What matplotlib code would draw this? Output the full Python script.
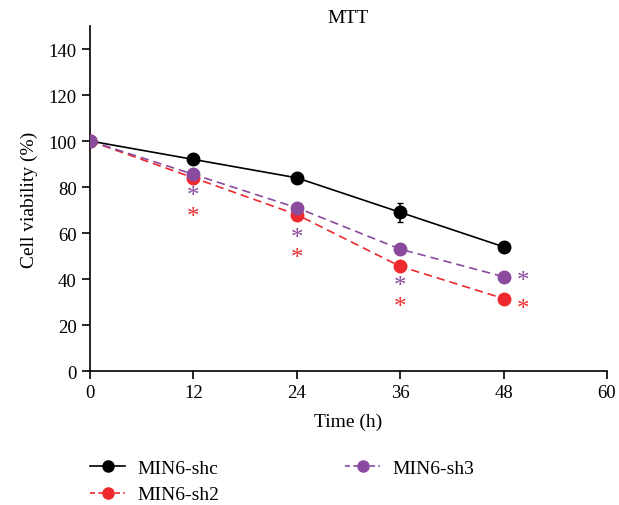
import numpy as np
import matplotlib.pyplot as plt
from matplotlib.lines import Line2D

plt.rcParams['font.family'] = ['Liberation Serif', 'DejaVu Serif']

# time points (h)
time = [0, 12, 24, 36, 48]

# cell viability (%) per group
shc = [100, 92, 84, 69, 54]
shc_err = [0, 1, 1.5, 4, 1]
sh2 = [100, 84, 68, 45.5, 31.5]
sh2_err = [0, 1.5, 2, 1.5, 1]
sh3 = [100, 85.5, 71, 53, 41]
sh3_err = [0, 1, 1, 1.5, 2]

# significance markers (x, y)
star_x = [12, 24, 36, 50.2]
star_sh3_y = [76, 58, 37, 39]
star_sh2_y = [67, 49, 28, 27]

col_shc = '#000000'
col_sh2 = '#ee2a2e'
col_sh3 = '#8a4a9e'

fig = plt.figure(figsize=(6.19, 5.06), dpi=100)
ax = fig.add_axes([0.1454, 0.2648, 0.8352, 0.6818])

ax.errorbar(time, shc, yerr=shc_err, color=col_shc, marker='o', ms=9,
            lw=1.2, capsize=2.5, elinewidth=1.2, zorder=3)
ax.errorbar(time, sh2, yerr=sh2_err, color=col_sh2, marker='o', ms=9,
            lw=1.2, ls=(0, (5, 3)), capsize=2.5, ecolor='black', elinewidth=1.2,
            zorder=3)
ax.errorbar(time, sh3, yerr=sh3_err, color=col_sh3, marker='o', ms=9,
            lw=1.2, ls=(0, (5, 3)), capsize=2.5, ecolor='black', elinewidth=1.2,
            zorder=4)

for x, y in zip(star_x, star_sh3_y):
    ax.text(x, y, '*', color=col_sh3, ha='center', va='center', fontsize=18)
for x, y in zip(star_x, star_sh2_y):
    ax.text(x, y, '*', color=col_sh2, ha='center', va='center', fontsize=18)

ax.set_xlim(0, 60)
ax.set_ylim(0, 150)
ax.set_xticks([0, 12, 24, 36, 48, 60])
ax.set_yticks([0, 20, 40, 60, 80, 100, 120, 140])
ax.spines['top'].set_visible(False)
ax.spines['right'].set_visible(False)
ax.tick_params(labelsize=13.5, width=1.2, length=6)
ax.spines['left'].set_linewidth(1.2)
ax.spines['bottom'].set_linewidth(1.2)
ax.set_xlabel('Time (h)', fontsize=14, labelpad=8)
ax.set_ylabel('Cell viability (%)', fontsize=14, labelpad=8)
ax.set_title('MTT', fontsize=14, pad=0)

handles = [
    Line2D([], [], color=col_shc, marker='o', ms=8, lw=1.2),
    Line2D([], [], color=col_sh2, marker='o', ms=8, lw=1.2, ls=(0, (3, 2))),
    Line2D([], [], color=col_sh3, marker='o', ms=8, lw=1.2, ls=(0, (3, 2))),
]
labels = ['MIN6-shc', 'MIN6-sh2', 'MIN6-sh3']
fig.legend(handles, labels, loc='upper left', bbox_to_anchor=(0.146, 0.090),
           ncol=2, frameon=False, fontsize=14, columnspacing=6.5,
           handlelength=1.8, handletextpad=0.6, labelspacing=0.45,
           borderaxespad=0, borderpad=0)

fig.savefig('out.png', dpi=100)
